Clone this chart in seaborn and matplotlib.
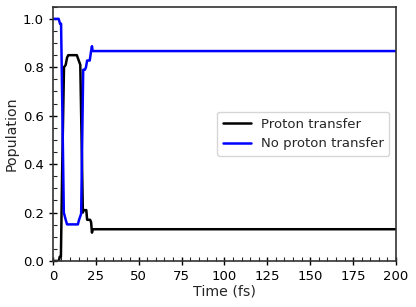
import matplotlib.pyplot as plt
import matplotlib.ticker as mticker
import pandas as pd
import seaborn as sns

# breakpoints of the two population curves (time in fs)
time_pt = [0, 3.5, 4.0, 4.7, 5.5, 6.5, 7.5, 8.3, 9.0, 14.0, 15.0, 16.0, 17.5, 17.8, 19.5, 20.0, 21.7, 22.3, 22.8, 23.3, 200]
pop_pt = [0.0, 0.0, 0.017, 0.017, 0.40, 0.80, 0.81, 0.84, 0.85, 0.85, 0.83, 0.81, 0.20, 0.21, 0.21, 0.17, 0.17, 0.16, 0.117, 0.131, 0.131]

time_npt = [0, 3.4, 4.2, 4.8, 5.6, 6.4, 7.5, 8.3, 14.6, 15.2, 16.5, 17.7, 18.7, 19.3, 20.0, 21.5, 22.3, 22.8, 23.2, 200]
pop_npt = [1.0, 1.0, 0.98, 0.98, 0.60, 0.20, 0.17, 0.151, 0.151, 0.168, 0.195, 0.79, 0.79, 0.80, 0.828, 0.828, 0.867, 0.887, 0.867, 0.867]

df = pd.concat([
    pd.DataFrame({'time': time_pt, 'pop': pop_pt, 'label': 'Proton transfer'}),
    pd.DataFrame({'time': time_npt, 'pop': pop_npt, 'label': 'No proton transfer'}),
])

sns.set_style('ticks')
plt.rcParams['font.family'] = ['DejaVu Sans']

fig = plt.figure(figsize=(4.16, 3.07), dpi=100)
ax = fig.add_axes([0.127, 0.150, 0.825, 0.828])

sns.lineplot(data=df, x='time', y='pop', hue='label', sort=False, estimator=None,
             palette={'Proton transfer': 'black', 'No proton transfer': '#0000ff'},
             linewidth=1.8, ax=ax)

ax.set_xlim(0, 200)
ax.set_ylim(0, 1.05)
ax.xaxis.set_major_locator(mticker.MultipleLocator(25))
ax.xaxis.set_minor_locator(mticker.MultipleLocator(5))
ax.yaxis.set_major_locator(mticker.MultipleLocator(0.2))
ax.yaxis.set_minor_locator(mticker.MultipleLocator(0.05))
ax.yaxis.set_major_formatter(mticker.FormatStrFormatter('%.1f'))
ax.tick_params(which='major', direction='inout', length=6, width=1, labelsize=9.5, colors='black')
ax.tick_params(which='minor', direction='in', length=3, width=0.8)
for s in ax.spines.values():
    s.set_linewidth(1.2)
    s.set_color('#333333')

ax.set_xlabel('Time (fs)', fontsize=10.2, labelpad=1)
ax.set_ylabel('Population', fontsize=10.2, labelpad=3)

leg = ax.legend(loc='center right', bbox_to_anchor=(1.0, 0.5), fontsize=9.5,
                frameon=True, handlelength=2.1, handletextpad=0.75, borderpad=0.45)
leg.get_frame().set_edgecolor('#cccccc')

fig.savefig('out.png', dpi=100)
